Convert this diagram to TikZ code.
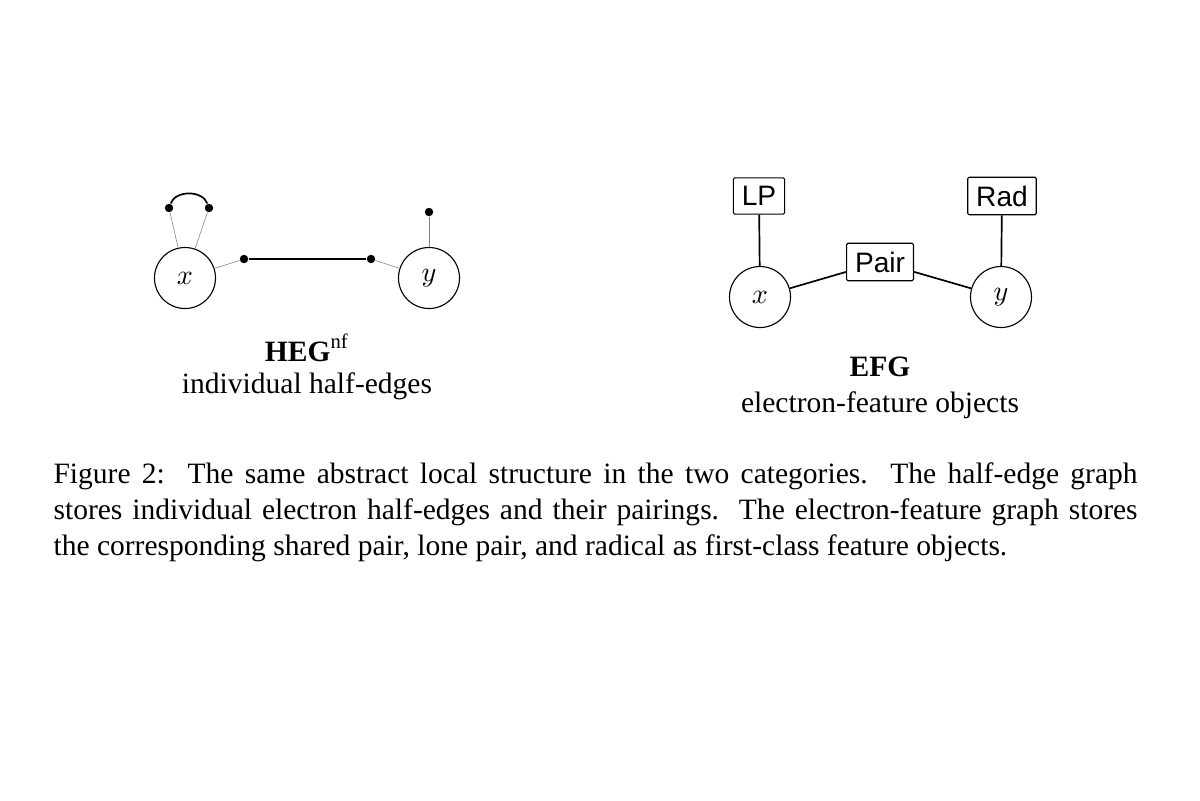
\documentclass[tikz,border=0pt]{standalone}
\usepackage{fontspec}
\setmainfont{Liberation Serif}
\setsansfont{Liberation Sans}
\usepackage{amsmath}
\usetikzlibrary{positioning}

\tikzset{
  atom/.style={circle, draw, thin, minimum size=61*0.0125cm, inner sep=0pt, font=\normalsize},
  feat/.style={rectangle, draw, thin, rounded corners=0.5pt, inner sep=3pt, font=\sffamily\normalsize},
  hedot/.style={circle, fill=black, inner sep=0pt, minimum size=3pt},
  stub/.style={gray, very thin},
  bond/.style={black, semithick},
  caption/.style={font=\fontsize{10.5}{12.5}\selectfont},
}

\begin{document}
\begin{tikzpicture}[x=0.0125cm, y=-0.0125cm]

        \useasboundingbox (0, 0) rectangle (1200, 800);

        % half-edge graph
        \node[atom] (hx) at (185, 278) {$x$};
        \node[atom] (hy) at (429, 278) {$y$};

        \node[hedot] (lpa) at (169, 208) {};
        \node[hedot] (lpb) at (209, 208) {};
        \node[hedot] (pa) at (244, 259) {};
        \node[hedot] (pb) at (371, 259) {};
        \node[hedot] (rd) at (429, 212) {};

        \draw[stub] (hx) -- (lpa);
        \draw[stub] (hx) -- (lpb);
        \draw[stub] (hx) -- (pa);
        \draw[stub] (hy) -- (pb);
        \draw[stub] (hy) -- (rd);

        \draw[bond] (lpa) to[bend left=70] (lpb);
        \draw[bond] (pa) -- (pb);

        \node[caption] (heg) at (307, 348) {$\textbf{HEG}^{\text{nf}}$};
        \node[caption] (hegtxt) at (307, 386) {individual half-edges};

        % electron-feature graph
        \node[atom] (ex) at (760, 297) {$x$};
        \node[atom] (ey) at (1001, 297) {$y$};

        \node[feat] (lp) at (759, 196) {LP};
        \node[feat] (pair) at (880, 262) {Pair};
        \node[feat] (rad) at (1002, 196) {Rad};

        \draw[bond] (ex) -- (lp);
        \draw[bond] (ex) -- (pair);
        \draw[bond] (pair) -- (ey);
        \draw[bond] (ey) -- (rad);

        \node[caption] (efg) at (880, 367) {\textbf{EFG}};
        \node[caption] (efgtxt) at (880, 405) {electron-feature objects};

        % caption
        \node[anchor=north west, inner sep=0pt, text width=1084*0.0125cm, align=justify,
              font=\fontsize{10.5}{12.9}\selectfont] (cap) at (53, 462)
        {Figure 2:\ \ The same abstract local structure in the two categories.\ \ The half-edge graph\linebreak
         stores individual electron half-edges and their pairings.\ \ The electron-feature graph stores\linebreak
         the corresponding shared pair, lone pair, and radical as first-class feature objects.};

\end{tikzpicture}
\end{document}
